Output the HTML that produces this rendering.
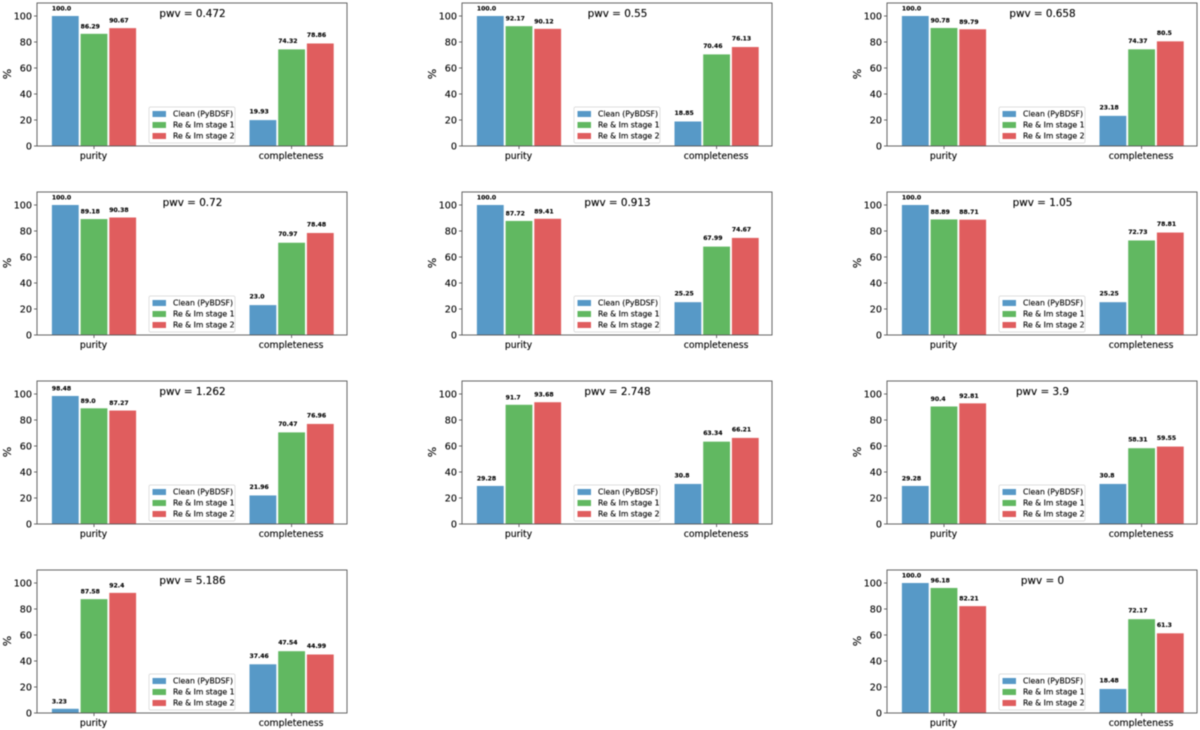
<!DOCTYPE html>
<html lang="en">
<head>
<meta charset="utf-8">
<title>Purity and completeness by pwv</title>
<style>
  html, body { margin: 0; padding: 0; background: #fff; }
  body { width: 1200px; height: 730px; overflow: hidden; }
  #figure { display: block; filter: blur(0.4px); }
  text { font-family: "DejaVu Sans", "Liberation Sans", sans-serif; fill: #000; stroke: #000; stroke-width: 0.12px; }
</style>
</head>
<body>
<svg id="figure" xmlns="http://www.w3.org/2000/svg" width="1200" height="730" viewBox="0 0 1200 730"></svg>
<script>
const pwvLabels = ['0.472', '0.55', '0.658', '0.72', '0.913', '1.05', '1.262', '2.748', '3.9', '5.186', '0'];
const metricNames = ['purity', 'completeness'];
const seriesNames = ['Clean (PyBDSF)', 'Re & Im stage 1', 'Re & Im stage 2'];
const yTicks = [0, 20, 40, 60, 80, 100];

const purityClean = [100, 100, 100, 100, 100, 100, 98.48, 29.28, 29.28, 3.23, 100];
const purityStage1 = [86.29, 92.17, 90.78, 89.18, 87.72, 88.89, 89.0, 91.7, 90.4, 87.58, 96.18];
const purityStage2 = [90.67, 90.12, 89.79, 90.38, 89.41, 88.71, 87.27, 93.68, 92.81, 92.4, 82.21];
const completenessClean = [19.93, 18.85, 23.18, 23.0, 25.25, 25.25, 21.96, 30.8, 30.8, 37.46, 18.48];
const completenessStage1 = [74.32, 70.46, 74.37, 70.97, 67.99, 72.73, 70.47, 63.34, 58.31, 47.54, 72.17];
const completenessStage2 = [78.86, 76.13, 80.5, 78.48, 74.67, 78.81, 76.96, 66.21, 59.55, 44.99, 61.3];

const svg = document.getElementById('figure');
const NS = 'http://www.w3.org/2000/svg';
const seriesColors = ['#5799c7', '#61b861', '#e05d5e'];
const axesWidth = 310;
const axesHeight = 143;
const yMax = 110;
const groupSpacing = 197.6;
const barStep = 28.7;
const barWidth = 26.8;

function create(parent, tag, attrs, content) {
  const el = document.createElementNS(NS, tag);
  for (const key in attrs) el.setAttribute(key, attrs[key]);
  if (content !== undefined) el.textContent = content;
  parent.appendChild(el);
  return el;
}

function formatValue(v) {
  return Number.isInteger(v) ? v.toFixed(1) : String(v);
}

function panelOrigin(i) {
  const col = i === 10 ? 2 : i % 3;
  const row = Math.floor(i / 3);
  return { left: 37 + col * 425, bottom: 146 + row * 189 };
}

function drawPanel(i) {
  const origin = panelOrigin(i);
  const left = origin.left;
  const bottom = origin.bottom;
  const top = bottom - axesHeight;
  const yScale = v => bottom - (v / yMax) * axesHeight;
  const xScale = g => left + 57 + g * groupSpacing;
  const panelValues = [
    [purityClean[i], purityStage1[i], purityStage2[i]],
    [completenessClean[i], completenessStage1[i], completenessStage2[i]]
  ];

  const panel = create(svg, 'g', {});
  
  

  const background = create(panel, 'rect', { x: left, y: top, width: axesWidth, height: axesHeight, fill: '#fff' });
  
  

  metricNames.forEach((metric, g) => {
    panelValues[g].forEach((value, s) => {
      const barLeft = xScale(g) + (s - 1) * barStep - barWidth / 2;
      const barTop = yScale(value);
      const bar = create(panel, 'rect', {
        x: barLeft.toFixed(2), y: barTop.toFixed(2), width: barWidth,
        height: (bottom - barTop).toFixed(2), fill: seriesColors[s]
      });
      
      

      const valueLabel = create(panel, 'text', {
        x: barLeft.toFixed(2), y: (barTop - (g === 0 ? 5.5 : 6.5)).toFixed(2),
        'font-size': '6.1', 'font-weight': 'bold'
      }, formatValue(value));
      
      
    });

    const xTick = create(panel, 'line', { x1: xScale(g), x2: xScale(g), y1: bottom, y2: bottom + 3, stroke: '#444', 'stroke-width': 0.8 });
    
    

    const xLabel = create(panel, 'text', { x: xScale(g) - 0.5, y: bottom + 13, 'font-size': '9.3', 'text-anchor': 'middle' }, metric);
    
    
  });

  yTicks.forEach(t => {
    const yTick = create(panel, 'line', { x1: left - 3, x2: left, y1: yScale(t), y2: yScale(t), stroke: '#444', 'stroke-width': 0.8 });
    
    

    const yLabel = create(panel, 'text', { x: left - 5, y: yScale(t) + 3.5, 'font-size': '9.6', 'text-anchor': 'end' }, String(t));
    
    
  });

  const yTitleY = bottom - axesHeight / 2 - 0.5;
  const yTitle = create(panel, 'text', {
    x: left - 26, y: yTitleY, 'font-size': '11', 'text-anchor': 'middle',
    transform: 'rotate(-90 ' + (left - 26) + ' ' + yTitleY + ')'
  }, '%');
  
  

  const frame = create(panel, 'rect', { x: left, y: top, width: axesWidth, height: axesHeight, fill: 'none', stroke: '#555', 'stroke-width': 0.9 });
  
  

  const title = create(panel, 'text', { x: left + axesWidth / 2 + 0.5, y: top + 14, 'font-size': '10.4', 'text-anchor': 'middle' }, 'pwv = ' + pwvLabels[i]);
  
  

  const legend = create(panel, 'g', {});
  
  

  const legendBox = create(legend, 'rect', { x: left + 112, y: bottom - 39, width: 86, height: 36, rx: 1.5, fill: '#fff', 'fill-opacity': 0.85, stroke: '#d5d5d5', 'stroke-width': 0.7 });
  
  

  seriesNames.forEach((name, s) => {
    const rowY = bottom - 32 + s * 11;
    const swatch = create(legend, 'rect', { x: left + 115.5, y: rowY - 3, width: 13.5, height: 6, fill: seriesColors[s] });
    
    

    const entry = create(legend, 'text', { x: left + 136, y: rowY + 2.7, 'font-size': '7.7' }, name);
    
    
  });
}

pwvLabels.forEach((label, i) => drawPanel(i));
</script>
</body>
</html>
